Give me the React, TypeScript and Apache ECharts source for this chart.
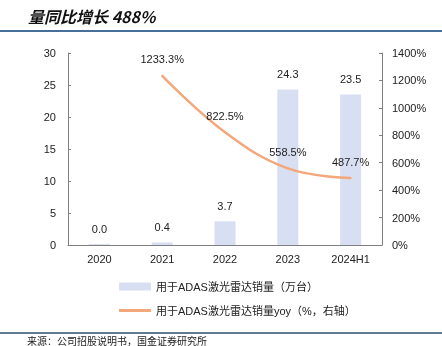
import React, { useEffect, useRef } from "react";
import * as echarts from "echarts";

const categories = ["2020", "2021", "2022", "2023", "2024H1"];
const salesValues = [0.04, 0.4, 3.7, 24.3, 23.5];
const yoyValues: (number | null)[] = [null, 1233.3, 822.5, 558.5, 487.7];
const salesName = "用于ADAS激光雷达销量（万台）";
const yoyName = "用于ADAS激光雷达销量yoy（%，右轴）";
const titleText = "量同比增长 488%";
const sourceText = "来源：公司招股说明书，国金证券研究所";

export default function App() {
  const ref = useRef<HTMLDivElement>(null);
  useEffect(() => {
    if (!ref.current) return;
    const chart = echarts.init(ref.current, undefined, { renderer: "svg" });
    const font = "Liberation Sans, Arial, Noto Sans CJK SC, sans-serif";
    chart.setOption({
      animation: false,
      textStyle: { fontFamily: font },
      grid: { left: 68, right: 60, top: 53, bottom: 101 },
      legend: [
        {
          orient: "vertical",
          left: 114,
          top: 276,
          itemWidth: 32,
          itemHeight: 8,
          textStyle: { fontSize: 11, color: "#222", fontFamily: font },
          data: [{ name: salesName, icon: "rect" }],
        },
        {
          orient: "vertical",
          left: 114,
          top: 300,
          itemWidth: 32,
          itemHeight: 3,
          textStyle: { fontSize: 11, color: "#222", fontFamily: font },
          data: [{ name: yoyName, icon: "rect", itemStyle: { color: "#f4a77a", opacity: 1 } }],
        },
      ],
      xAxis: {
        type: "category",
        data: categories,
        axisLine: { lineStyle: { color: "#7f7f7f", width: 1 } },
        axisTick: { show: false },
        axisLabel: { color: "#222", fontSize: 11, margin: 8 },
      },
      yAxis: [
        {
          type: "value",
          min: 0,
          max: 30,
          interval: 5,
          splitLine: { show: false },
          axisLine: { show: true, lineStyle: { color: "#7f7f7f" } },
          axisTick: { show: true, inside: true, length: 3, lineStyle: { color: "#7f7f7f" } },
          axisLabel: { color: "#222", fontSize: 11, margin: 12 },
        },
        {
          type: "value",
          min: 0,
          max: 1400,
          interval: 200,
          splitLine: { show: false },
          axisLine: { show: true, lineStyle: { color: "#7f7f7f" } },
          axisTick: { show: true, inside: true, length: 3, lineStyle: { color: "#7f7f7f" } },
          axisLabel: { color: "#222", fontSize: 11, margin: 10, formatter: (v: number) => v + "%" },
        },
      ],
      series: [
        {
          name: salesName,
          type: "bar",
          data: salesValues,
          barWidth: 21,
          barMinHeight: 1,
          itemStyle: { color: "#d9dff2" },
          label: {
            show: true,
            position: "top",
            distance: 10,
            color: "#222",
            fontSize: 11,
            formatter: (p: any) => Number(p.value).toFixed(1),
          },
        },
        {
          name: yoyName,
          type: "line",
          yAxisIndex: 1,
          data: yoyValues,
          smooth: 0.4,
          symbol: "circle",
          symbolSize: 2,
          showSymbol: true,
          lineStyle: { color: "#f4a77a", width: 2.5 },
          itemStyle: { color: "#f4a77a" },
          label: {
            show: true,
            position: "top",
            distance: 10,
            color: "#222",
            fontSize: 11,
            formatter: (p: any) => Number(p.value).toFixed(1) + "%",
          },
        },
      ],
      graphic: [
        {
          type: "text",
          left: 28,
          top: 8,
          style: {
            text: titleText,
            fontSize: 16,
            fontWeight: "bold",
            fontStyle: "italic",
            fill: "#111",
            fontFamily: "Noto Sans CJK SC, sans-serif",
          },
        },
        {
          type: "line",
          shape: { x1: 0, y1: 31, x2: 442, y2: 31 },
          style: { stroke: "#46709a", lineWidth: 2 },
        },
        {
          type: "line",
          shape: { x1: 0, y1: 333, x2: 442, y2: 333 },
          style: { stroke: "#2c4d6a", lineWidth: 1.5 },
        },
        {
          type: "text",
          left: 27,
          top: 335,
          style: {
            text: sourceText,
            fontSize: 10,
            fill: "#222",
            fontFamily: "Noto Sans CJK SC, sans-serif",
          },
        },
      ],
    });
    return () => chart.dispose();
  }, []);
  return <div ref={ref} style={{ width: 442, height: 346, position: "fixed", left: 0, top: 0 }} />;
}
